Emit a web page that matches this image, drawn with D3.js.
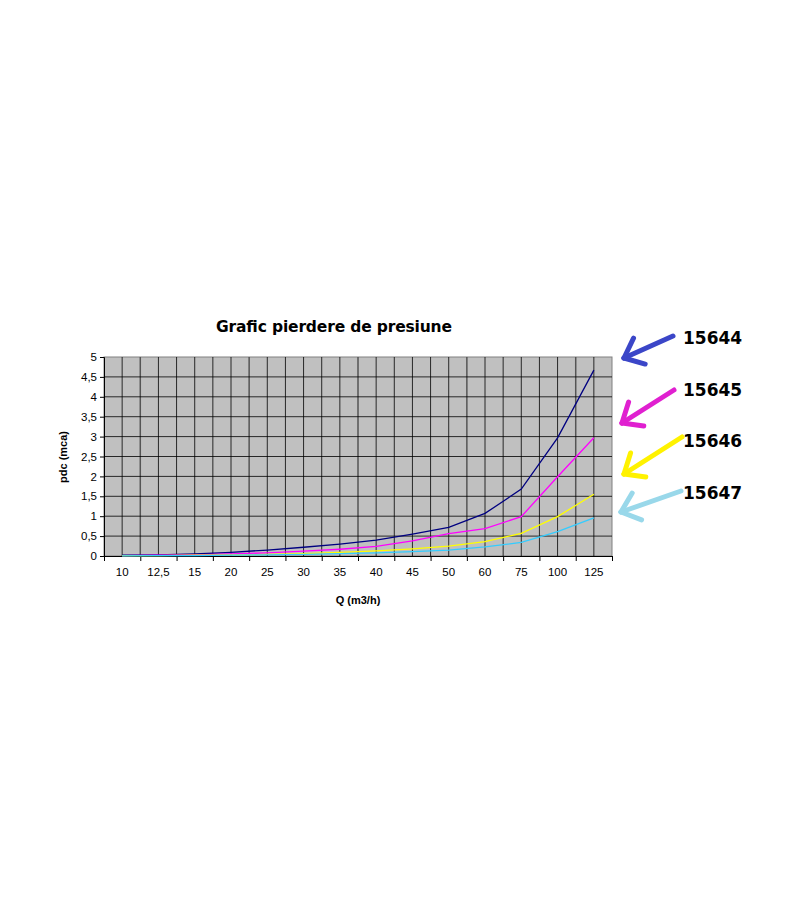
<!DOCTYPE html><html><head><meta charset="utf-8"><script src="https://cdn.jsdelivr.net/npm/d3@7"></script>
<style>body{margin:0;background:#fff}</style></head><body><svg width="800" height="920"></svg><script>
const categories=["10","12,5","15","20","25","30","35","40","45","50","60","75","100","125"];
const s15644=[0.02,0.03,0.05,0.09,0.15,0.22,0.3,0.4,0.55,0.72,1.07,1.68,2.97,4.67];
const s15645=[0.01,0.02,0.03,0.05,0.08,0.12,0.17,0.24,0.38,0.56,0.69,0.99,1.99,2.97];
const s15646=[0.01,0.01,0.02,0.03,0.04,0.06,0.09,0.13,0.18,0.25,0.36,0.57,0.99,1.55];
const s15647=[0.005,0.01,0.01,0.02,0.03,0.04,0.06,0.08,0.11,0.15,0.23,0.34,0.61,0.96];
const yTicks=[0,0.5,1,1.5,2,2.5,3,3.5,4,4.5,5];
const series=[{name:"15644",v:s15644,c:"#000080"},{name:"15645",v:s15645,c:"#ff00ff"},{name:"15646",v:s15646,c:"#ffff00"},{name:"15647",v:s15647,c:"#33ccff"}];
const arrowCol=["#3b46c8","#e020d0","#fff200","#99d8ea"];
const svg=d3.select("svg");
const L=104,R=612,T=357,B=556;
const x=d3.scaleBand().domain(categories).range([L,R]);
const y=d3.scaleLinear().domain([0,5]).range([B,T]);
svg.append("rect").attr("x",L).attr("y",T).attr("width",R-L).attr("height",B-T).attr("fill","#c0c0c0").attr("stroke","#808080");
const g=svg.append("g");
categories.forEach((c,i)=>{
  g.append("line").attr("x1",x(c)+x.bandwidth()/2).attr("x2",x(c)+x.bandwidth()/2).attr("y1",T).attr("y2",B).attr("stroke","#000").attr("stroke-width",0.8);
  if(i>0)g.append("line").attr("x1",x(c)).attr("x2",x(c)).attr("y1",T).attr("y2",B).attr("stroke",i%3==1?"#555":"#000").attr("stroke-width",i%3==1?1.5:0.8);
});
yTicks.forEach(t=>{if(t>0&&t<5)g.append("line").attr("x1",L).attr("x2",R).attr("y1",y(t)).attr("y2",y(t)).attr("stroke","#000").attr("stroke-width",0.8);});
const ya=svg.append("g").attr("transform",`translate(${L},0)`).call(d3.axisLeft(y).tickValues(yTicks).tickSize(4).tickFormat(d=>String(d).replace(".",",")));
const xa=svg.append("g").attr("transform",`translate(0,${B})`).call(d3.axisBottom(x).tickSize(0).tickPadding(12));
svg.append("g").attr("transform",`translate(0,${B})`).call(d3.axisBottom(d3.scaleLinear().domain([0,14]).range([L,R])).ticks(14).tickSize(5).tickFormat(""));
svg.selectAll(".tick text").attr("font-family","Liberation Sans, Arial").attr("font-size",11.5).attr("fill","#000");
svg.selectAll(".domain").attr("stroke","#000");
const line=d3.line().x((d,i)=>x(categories[i])+x.bandwidth()/2).y(d=>y(d));
series.forEach(s=>svg.append("path").attr("d",line(s.v)).attr("fill","none").attr("stroke",s.c).attr("stroke-width",1.3));
svg.append("text").attr("x",334).attr("y",332).attr("text-anchor","middle").attr("font-family","DejaVu Sans").attr("font-weight","bold").attr("font-size",15.5).attr("textLength",236).text("Grafic pierdere de presiune");
svg.append("text").attr("x",358).attr("y",604).attr("text-anchor","middle").attr("font-family","Liberation Sans, Arial").attr("font-weight","bold").attr("font-size",11).text("Q (m3/h)");
svg.append("text").attr("transform","translate(67,457) rotate(-90)").attr("text-anchor","middle").attr("font-family","Liberation Sans, Arial").attr("font-weight","bold").attr("font-size",11).text("pdc (mca)");
const ly=[338,390,441,493];
series.forEach((s,i)=>{
  svg.append("text").attr("x",683).attr("y",ly[i]+6).attr("font-family","DejaVu Sans").attr("font-weight","bold").attr("font-size",17).text(s.name);
  const a=svg.append("g").attr("stroke",arrowCol[i]).attr("stroke-width",5).attr("stroke-linecap","round").attr("fill","none");
  const ends=[[673,336,624,358],[674,390,622,423],[682,437,624,474],[681,491,621,512]][i];
  a.append("line").attr("x1",ends[0]).attr("y1",ends[1]).attr("x2",ends[2]).attr("y2",ends[3]);
  const ang=Math.atan2(ends[1]-ends[3],ends[0]-ends[2]);
  [0.7,-0.7].forEach(d=>a.append("line").attr("x1",ends[2]).attr("y1",ends[3]).attr("x2",ends[2]+22*Math.cos(ang+d)).attr("y2",ends[3]+22*Math.sin(ang+d)));
});
</script></body></html>
